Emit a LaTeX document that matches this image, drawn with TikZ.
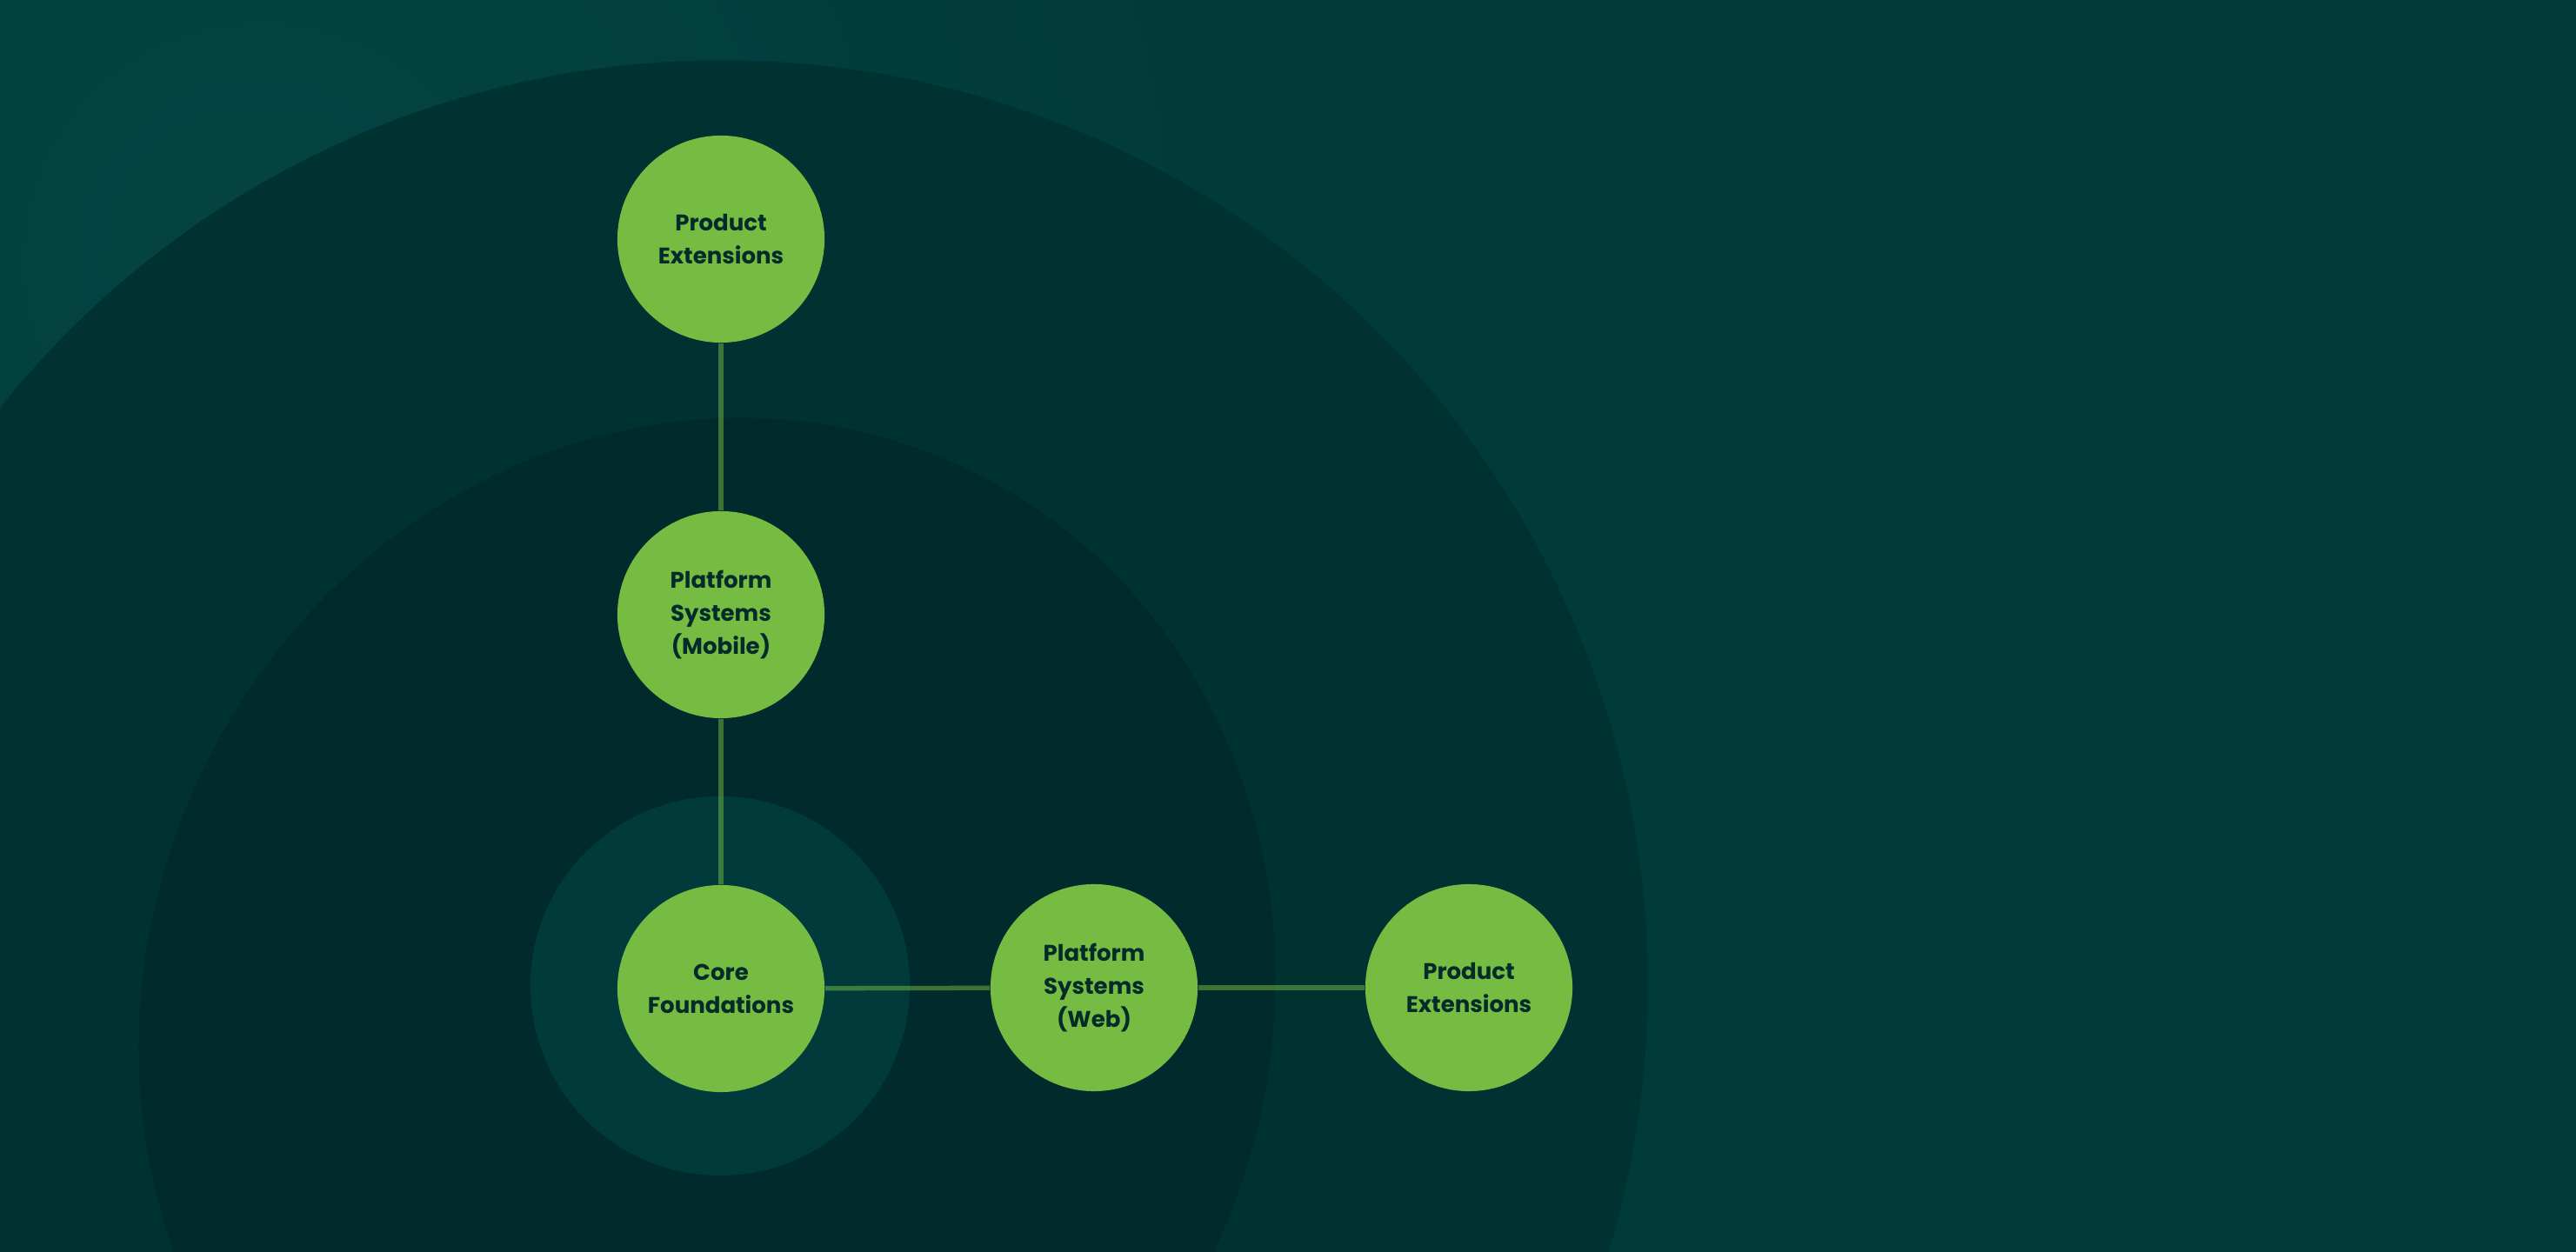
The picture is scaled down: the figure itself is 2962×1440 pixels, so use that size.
\documentclass[tikz,border=0pt]{standalone}
\usepackage{fontspec}
\setmainfont{Poppins}[BoldFont={* Bold}]
\newfontfamily\popb{Poppins Bold}
\definecolor{bgbase}{HTML}{013A3B}
\definecolor{bglight}{HTML}{044443}
\definecolor{ringouter}{HTML}{003231}
\definecolor{ringmid}{HTML}{002A2B}
\definecolor{ringinner}{HTML}{013A3A}
\definecolor{nodegreen}{HTML}{76BC43}
\definecolor{nodetext}{HTML}{032B2A}
\tikzset{
  hub/.style={circle, fill=nodegreen, minimum size=2.38cm, inner sep=0pt,
    text=nodetext, align=center,
    font=\popb\fontsize{7.4}{10.8}\selectfont},
  link/.style={draw=nodegreen, draw opacity=0.5, line width=1.5pt}
}
\begin{document}
\begin{tikzpicture}[x=0.01cm, y=-0.01cm]
\useasboundingbox (0,0) rectangle (2962,1440);
\begin{scope}
\clip (0,0) rectangle (2962,1440);
\fill[bgbase] (0,0) rectangle (2962,1440);
\shade[inner color=bglight, outer color=bgbase] (300,300) circle[radius=11cm];
\fill[ringouter] (831,1133) circle[radius=10.63cm];
\fill[ringmid, rotate around={-25.4:(813,1166)}] (813,1166) ellipse[x radius=6.435cm, y radius=6.938cm];
\fill[ringinner] (828,1134) circle[radius=2.18cm];
\end{scope}
\node[hub] (pet) at (829,275) {Product\\Extensions};
\node[hub] (psm) at (829,707) {Platform\\Systems\\(Mobile)};
\node[hub] (core) at (829,1137) {Core\\Foundations};
\node[hub] (psw) at (1258,1136) {Platform\\Systems\\(Web)};
\node[hub] (per) at (1689,1136) {Product\\Extensions};
\draw[link] (pet) -- (psm);
\draw[link] (psm) -- (core);
\draw[link] (core) -- (psw);
\draw[link] (psw) -- (per);
\end{tikzpicture}
\end{document}
